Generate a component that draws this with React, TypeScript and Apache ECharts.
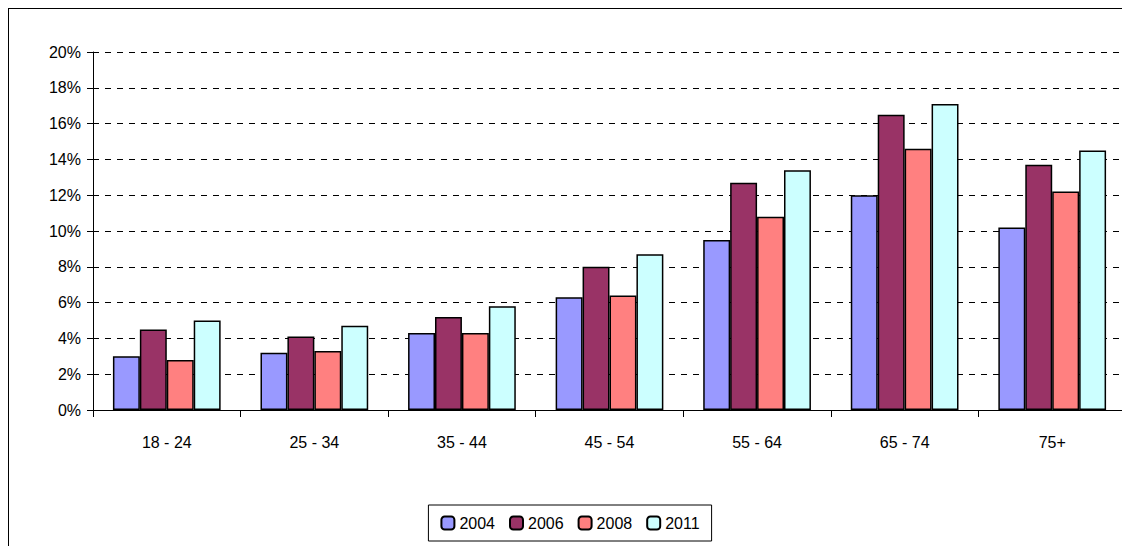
import { useEffect, useRef } from 'react';
import * as echarts from 'echarts';

const categories = ['18 - 24', '25 - 34', '35 - 44', '45 - 54', '55 - 64', '65 - 74', '75+'];
const years = ['2004', '2006', '2008', '2011'];
const v2004 = [3.0, 3.2, 4.3, 6.3, 9.5, 12.0, 10.2];
const v2006 = [4.5, 4.1, 5.2, 8.0, 12.7, 16.5, 13.7];
const v2008 = [2.8, 3.3, 4.3, 6.4, 10.8, 14.6, 12.2];
const v2011 = [5.0, 4.7, 5.8, 8.7, 13.4, 17.1, 14.5];
const colors = ['#9999ff', '#993366', '#ff8080', '#ccffff'];

const font = '"Liberation Sans Narrow", "Liberation Sans", Arial, sans-serif';

export default function App() {
  const chartRef = useRef<HTMLDivElement>(null);

  useEffect(() => {
    if (!chartRef.current) return;
    const chart = echarts.init(chartRef.current, undefined, { renderer: 'svg' });
    const series = [v2004, v2006, v2008, v2011];
    chart.setOption({
      animation: false,
      textStyle: { fontFamily: font },
      grid: { left: 84, right: 5, top: 43, bottom: 137 },
      legend: {
        bottom: 6,
        left: 'center',
        itemWidth: 13,
        itemHeight: 13,
        itemGap: 14,
        padding: [10, 12],
        borderColor: '#000',
        borderWidth: 1,
        textStyle: { fontSize: 16, color: '#000', fontFamily: font },
        data: years,
      },
      xAxis: {
        type: 'category',
        data: categories,
        axisLine: { lineStyle: { color: '#000' } },
        axisTick: { show: true, length: 7, lineStyle: { color: '#000' } },
        axisLabel: { color: '#000', fontSize: 16, margin: 24 },
      },
      yAxis: {
        type: 'value',
        min: 0,
        max: 20,
        interval: 2,
        axisLine: { show: true, lineStyle: { color: '#000' } },
        axisTick: { show: true, length: 6, lineStyle: { color: '#000' } },
        axisLabel: { color: '#000', fontSize: 16, formatter: '{value}%', margin: 12 },
        splitLine: { lineStyle: { color: '#000', type: [6, 6] } },
      },
      series: series.map((d, i) => ({
        name: years[i],
        type: 'bar',
        data: d,
        barGap: '0%',
        barCategoryGap: '27%',
        itemStyle: { color: colors[i], borderColor: '#000', borderWidth: 1.5 },
      })),
    });
    return () => chart.dispose();
  }, []);

  return (
    <div style={{ width: 1122, height: 538, borderLeft: '1px solid #000', borderTop: '1px solid #000' }}>
      <div ref={chartRef} style={{ width: 1122, height: 538 }} />
    </div>
  );
}
